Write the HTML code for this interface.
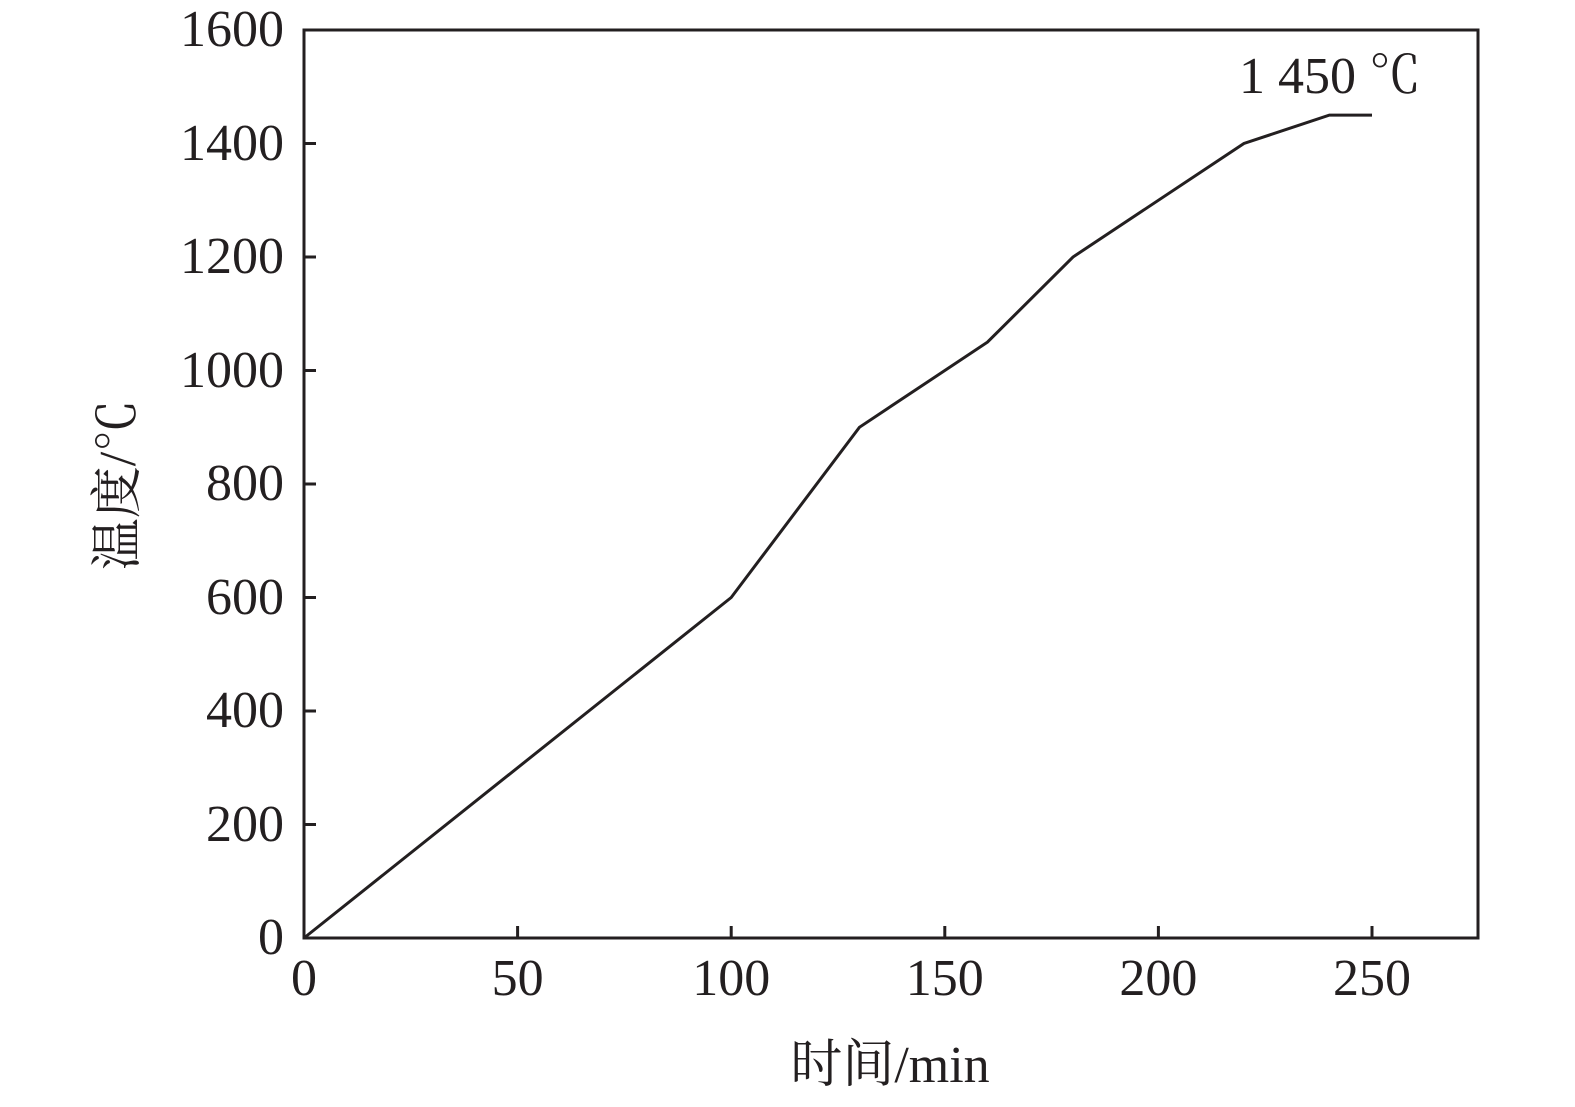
<!DOCTYPE html>
<html><head><style>body{margin:0;background:#fff} text{font-family:"Liberation Serif","Noto Serif CJK SC",serif}</style></head><body>
<svg width="1575" height="1102" xmlns="http://www.w3.org/2000/svg" fill="#231f20">
<g stroke="#231f20" stroke-width="3" fill="none">
<rect x="304" y="30" width="1174" height="908"/>
<path d="M517.6 938v-12M731.2 938v-12M944.8 938v-12M1158.4 938v-12M1372 938v-12"/>
<path d="M304 824.5h12M304 711h12M304 597.5h12M304 484h12M304 370.5h12M304 257h12M304 143.5h12"/>
<polyline points="304,938 731.2,597.5 859.4,427.3 987.5,342.1 1073,257 1243.9,143.5 1329.4,115.1 1372,115.1"/>
</g>
<g font-size="52" text-anchor="end">
<text x="284" y="954">0</text><text x="284" y="841">200</text><text x="284" y="727">400</text><text x="284" y="614">600</text><text x="284" y="500">800</text><text x="284" y="387">1000</text><text x="284" y="273">1200</text><text x="284" y="160">1400</text><text x="284" y="46">1600</text>
</g>
<g font-size="52" text-anchor="middle">
<text x="304" y="995">0</text><text x="517.6" y="995">50</text><text x="731.2" y="995">100</text><text x="944.8" y="995">150</text><text x="1158.4" y="995">200</text><text x="1372" y="995">250</text>
<text x="890" y="1082">时间/min</text>
<text x="1330" y="93">1 450 ℃</text>
<text transform="translate(135,485) rotate(-90)">温度/℃</text>
</g>
</svg>
</body></html>
